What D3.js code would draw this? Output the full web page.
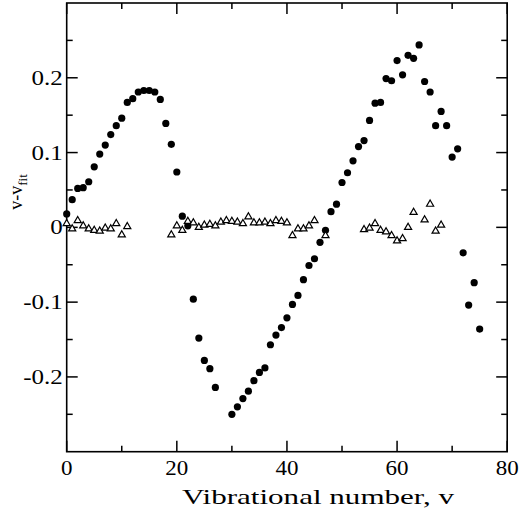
<!DOCTYPE html>
<html><head><meta charset="utf-8">
<script src="https://cdn.jsdelivr.net/npm/d3@7"></script>
<style>body{margin:0;background:#fff}svg{display:block}text{font-family:"Liberation Serif","Times New Roman",serif;fill:#000}</style>
</head><body><div id="chart"></div>
<script>
const circleV = [0,1,2,3,4,5,6,7,8,9,10,11,12,13,14,15,16,17,18,19,20,21,22,23,24,25,26,27,30,31,32,33,34,35,36,37,38,39,40,41,42,43,44,45,46,47,48,49,50,51,52,53,54,55,56,57,58,59,60,61,62,63,64,65,66,67,68,69,70,71,72,73,74,75];
const circleY = [0.018,0.037,0.052,0.053,0.061,0.081,0.098,0.110,0.124,0.136,0.146,0.167,0.172,0.181,0.183,0.183,0.181,0.171,0.139,0.111,0.074,0.015,0.002,-0.096,-0.148,-0.178,-0.189,-0.214,-0.250,-0.240,-0.229,-0.219,-0.205,-0.194,-0.188,-0.157,-0.144,-0.134,-0.121,-0.103,-0.091,-0.070,-0.051,-0.042,-0.020,-0.004,0.021,0.031,0.060,0.073,0.089,0.108,0.116,0.143,0.166,0.167,0.199,0.196,0.223,0.204,0.230,0.226,0.244,0.195,0.181,0.136,0.155,0.136,0.094,0.105,-0.034,-0.104,-0.074,-0.136];
const triV = [0,1,2,3,4,5,6,7,8,9,10,11,19,20,21,22,23,24,25,26,27,28,29,30,31,32,33,34,35,36,37,38,39,40,41,42,43,44,45,47,54,55,56,57,58,59,60,61,62,63,65,66,67,68];
const triY = [0.005,-0.002,0.009,0.002,-0.002,-0.004,-0.005,-0.001,-0.002,0.005,-0.010,0.001,-0.010,0.002,-0.004,0.008,0.006,0.000,0.003,0.004,0.002,0.007,0.009,0.008,0.007,0.005,0.014,0.006,0.006,0.007,0.005,0.009,0.008,0.006,-0.011,-0.002,-0.002,0.002,0.009,-0.011,-0.003,-0.001,0.005,-0.004,-0.006,-0.011,-0.018,-0.015,0.000,0.020,0.010,0.031,-0.005,0.003];
const xTicks = [0,20,40,60,80];
const xMinor = [10,30,50,70];
const yTicks = [-0.2,-0.1,0,0.1,0.2];
const yMinor = [-0.25,-0.15,-0.05,0.05,0.15,0.25];
const yTickLabels = ["-0.2","-0.1","0","0.1","0.2"];

const W = 519, H = 512;
const L = 66.7, R = 507.2, T = 3, B = 451.7;
const svg = d3.select("#chart").append("svg").attr("width", W).attr("height", H);
const x = d3.scaleLinear().domain([0,80]).range([L,R]);
const y = d3.scaleLinear().domain([-0.3,0.3]).range([B,T]);

const g = svg.append("g").attr("stroke","#000").attr("stroke-width",1.5);
function ticks(vals, len){
  vals.forEach(v=>{
    g.append("line").attr("x1",x(v)).attr("x2",x(v)).attr("y1",B).attr("y2",B-len);
    g.append("line").attr("x1",x(v)).attr("x2",x(v)).attr("y1",T).attr("y2",T+len);
  });
}
function yticks(vals, len){
  vals.forEach(v=>{
    g.append("line").attr("y1",y(v)).attr("y2",y(v)).attr("x1",L).attr("x2",L+len);
    g.append("line").attr("y1",y(v)).attr("y2",y(v)).attr("x1",R).attr("x2",R-len);
  });
}
ticks(xTicks,11); ticks(xMinor,6); yticks(yTicks,11); yticks(yMinor,6);
svg.append("rect").attr("x",L).attr("y",T).attr("width",R-L).attr("height",B-T)
  .attr("fill","none").attr("stroke","#000").attr("stroke-width",1.6);

// tick labels (slightly wide serif, as in the reference)
svg.selectAll(".xl").data(xTicks).join("text")
  .attr("transform",d=>`translate(${x(d)},${B+23}) scale(1.15,1)`)
  .attr("text-anchor","middle").attr("font-size",20).text(d=>d);
svg.selectAll(".yl").data(yTicks).join("text")
  .attr("transform",d=>`translate(${L-4},${y(d)+7}) scale(1.25,1)`)
  .attr("text-anchor","end").attr("font-size",20).text((d,i)=>yTickLabels[i]);

// axis titles
svg.append("text").attr("x",318).attr("y",B+52).attr("text-anchor","middle")
  .attr("font-size",21).attr("textLength",272).attr("lengthAdjust","spacingAndGlyphs")
  .text("Vibrational number, v");
const yl = svg.append("text").attr("transform","translate(22,192) rotate(-90)")
  .attr("text-anchor","middle").attr("font-size",18);
yl.append("tspan").text("v-v");
yl.append("tspan").attr("font-size",13).attr("dy",5).text("fit");

// data
const circles = circleV.map((v,i)=>({v, val:circleY[i]}));
const tris = triV.map((v,i)=>({v, val:triY[i]}));
svg.append("g").selectAll("circle").data(circles).join("circle")
  .attr("cx",d=>x(d.v)).attr("cy",d=>y(d.val)).attr("r",3.6).attr("fill","#000");
const tri = d3.symbol().type(d3.symbolTriangle).size(22);
svg.append("g").selectAll("path").data(tris).join("path")
  .attr("d",tri).attr("transform",d=>`translate(${x(d.v)},${y(d.val)})`)
  .attr("fill","#fff").attr("stroke","#000").attr("stroke-width",1.2);
</script></body></html>
